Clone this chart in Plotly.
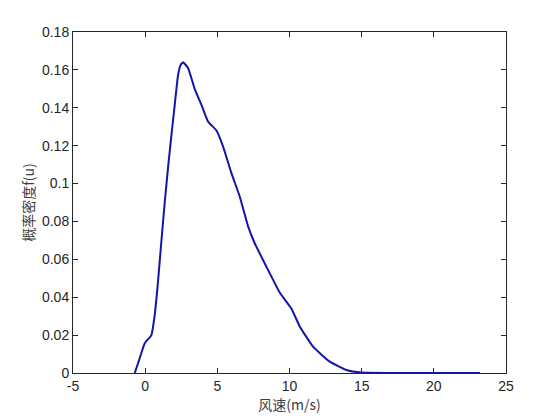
import plotly.graph_objects as go

# Wind speed (m/s) and probability density f(u)
wind_speed = [-0.72, -0.38, -0.03, 0.43, 0.66, 0.89, 1.12, 1.36, 1.58, 1.82, 2.05,
              2.28, 2.45, 2.63, 2.97, 3.43, 3.90, 4.36, 4.94, 5.40, 5.98, 6.55,
              7.13, 7.59, 8.40, 9.32, 10.13, 10.71, 11.63, 12.79, 13.95, 14.98,
              17.0, 20.0, 23.2]
density = [0.0, 0.0078, 0.0157, 0.020, 0.0306, 0.0482, 0.0693, 0.0904, 0.108, 0.1257, 0.1417,
           0.1573, 0.1625, 0.164, 0.161, 0.150, 0.1415, 0.1327, 0.128, 0.1195, 0.1054, 0.0932,
           0.0774, 0.0685, 0.0561, 0.0425, 0.034, 0.0246, 0.0139, 0.006, 0.0016, 0.0002,
           0.0, 0.0, 0.0]

x_ticks = [-5, 0, 5, 10, 15, 20, 25]
x_tick_text = ["-5", "0", "5", "10", "15", "20", "25"]
y_ticks = [0, 0.02, 0.04, 0.06, 0.08, 0.1, 0.12, 0.14, 0.16, 0.18]
y_tick_text = ["0", "0.02", "0.04", "0.06", "0.08", "0.1", "0.12", "0.14", "0.16", "0.18"]

fig = go.Figure()
fig.add_trace(go.Scatter(
    x=wind_speed, y=density, mode="lines",
    line=dict(color="rgb(20,20,170)", width=2, shape="spline", smoothing=0.4),
    showlegend=False, hoverinfo="skip",
))

tick_font = dict(family="Liberation Sans, Arial, sans-serif", size=14, color="#262626")
title_font = dict(family="Noto Sans CJK SC, Liberation Sans, sans-serif", size=14, color="#404040")

# page body adds an 8px offset, so margins compensate
fig.update_layout(
    width=552, height=412,
    margin=dict(l=65, r=54, t=24, b=47),
    paper_bgcolor="white", plot_bgcolor="white",
    xaxis=dict(
        range=[-5, 25], tickvals=x_ticks, ticktext=x_tick_text, ticks="inside", ticklen=5,
        tickcolor="#262626", automargin=False,
        showline=True, linecolor="#262626", linewidth=1, mirror="ticks",
        showgrid=False, zeroline=False, tickfont=tick_font,
        title=dict(text="风速(m/s)", font=title_font, standoff=0),
    ),
    yaxis=dict(
        range=[0, 0.18], tickvals=y_ticks, ticktext=y_tick_text, ticks="inside", ticklen=5,
        tickcolor="#262626", automargin=False,
        showline=True, linecolor="#262626", linewidth=1, mirror="ticks",
        showgrid=False, zeroline=False, tickfont=tick_font,
        title=dict(text="概率密度f(u)", font=title_font, standoff=4),
    ),
)

fig.write_html("out.html")
